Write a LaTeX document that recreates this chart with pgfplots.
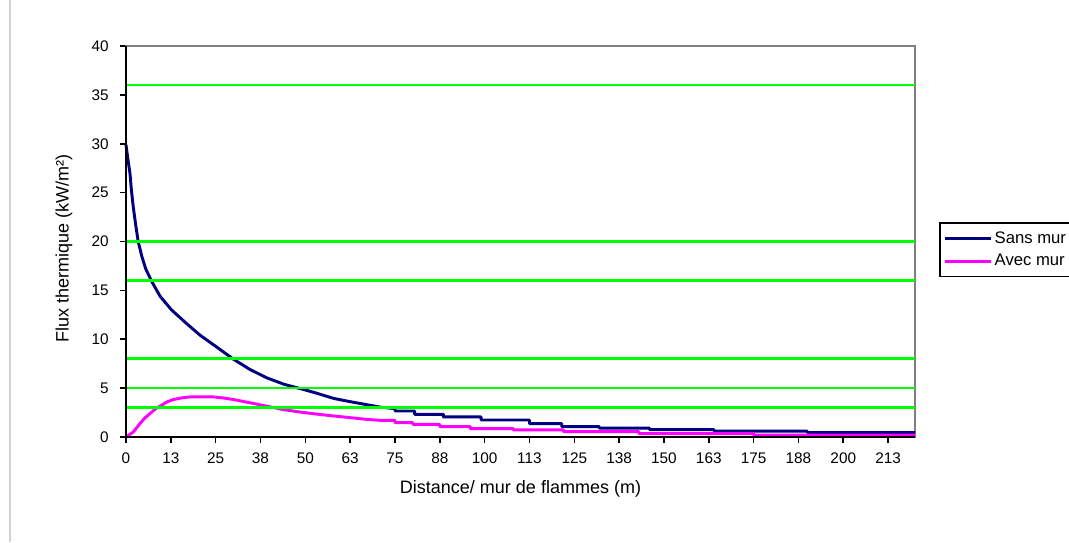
\documentclass[border=0pt]{standalone}
\usepackage{fontspec}
\setmainfont{Liberation Sans}
\usepackage{pgfplots}
\pgfplotsset{compat=1.18}
\definecolor{navyc}{RGB}{0,0,128}
\definecolor{pinkc}{RGB}{255,0,255}
\definecolor{greenc}{RGB}{0,255,0}
\definecolor{borderc}{RGB}{128,128,128}
\newcommand{\tfont}{\fontsize{11.5}{13}\selectfont}
\newcommand{\lfont}{\fontsize{13.5}{15}\selectfont}
\newcommand{\gfont}{\fontsize{12.5}{14}\selectfont}
\begin{document}
\begin{tikzpicture}
\draw[gray!35, line width=0.8pt] (-87pt,-78.75pt) -- (-87pt,327.75pt);
\begin{axis}[
  at={(0,0)}, anchor=south west,
  scale only axis, width=591.75pt, height=293.25pt,
  xmin=0, xmax=220, ymin=0, ymax=40,
  xtick={0,12.5,25,37.5,50,62.5,75,87.5,100,112.5,125,137.5,150,162.5,175,187.5,200,212.5},
  xticklabels={0,13,25,38,50,63,75,88,100,113,125,138,150,163,175,188,200,213},
  ytick={0,5,10,15,20,25,30,35,40},
  tick align=outside, xtick pos=left, ytick pos=left,
  major tick length=4.5pt,
  tick style={black, line width=1.2pt},
  axis line style={draw=borderc, line width=1.5pt},
  /pgf/number format/assume math mode=true,
  tick label style={font=\tfont},
  yticklabel style={xshift=-5pt},
  xticklabel style={yshift=-4pt},
  xlabel={Distance/ mur de flammes (m)},
  ylabel={Flux thermique (kW/m²)},
  every axis x label/.style={at={(rel axis cs:0.5,0)}, yshift=-39pt, anchor=center, font=\lfont},
  every axis y label/.style={at={(rel axis cs:0,0.5)}, xshift=-46.5pt, yshift=-5pt, rotate=90, anchor=center, font=\lfont},
  legend style={at={(1.0304,0.55)}, anchor=north west, draw=black, line width=1.2pt,
    font=\gfont, inner xsep=3pt, inner ysep=4.5pt, row sep=3pt, cells={anchor=west}},
  legend image code/.code={\draw[#1] (0pt,0pt) -- (34pt,0pt);},
  clip=false,
]
\addplot[navyc, line width=2.2pt, line join=round] coordinates {
(0,29.9) (0.5,28.5) (1.1,27.0) (1.5,25.3) (2.0,23.6) (2.7,21.7) (3.4,20.0) (4.4,18.5)
(5.5,17.2) (7.2,15.9) (9.5,14.4) (12.7,13.0) (16.9,11.6) (20.7,10.4) (25.3,9.2)
(30,7.95) (34.6,6.9) (39.3,6.05) (44,5.4) (48.6,4.95) (53,4.5) (57.9,3.95) (62,3.65)
(67.2,3.3) (71,3.05) (75,2.9) (75,2.66) (80.5,2.66) (80.5,2.32) (88.5,2.32) (88.5,2.05)
(99,2.05) (99,1.74) (112.5,1.74) (112.5,1.36) (121.5,1.36) (121.5,1.06) (132,1.06)
(132,0.9) (146,0.9) (146,0.75) (164,0.75) (164,0.6) (190,0.6) (190,0.45) (220,0.45)
};
\addlegendentry{Sans mur}
\addplot[pinkc, line width=2.2pt, line join=round] coordinates {
(0,0) (2,0.5) (3.9,1.37) (5,1.85) (6.7,2.4) (8.3,2.9) (9.9,3.25) (11.5,3.6) (13.2,3.83)
(15.5,4.0) (17.9,4.1) (24.4,4.1) (27,4.0) (30,3.83) (34.6,3.5) (39.3,3.15) (43.9,2.8)
(48.6,2.55) (53,2.35) (57.9,2.15) (62,2.0) (67.2,1.8) (71,1.7) (75,1.7) (75,1.47)
(80,1.47) (80,1.3) (87.5,1.3) (87.5,1.06) (96,1.06) (96,0.85) (108,0.85) (108,0.72)
(122,0.72) (122,0.55) (143,0.55) (143,0.35) (175,0.35) (175,0.2) (220,0.2)
};
\addlegendentry{Avec mur}
\addplot[greenc, line width=2pt, forget plot] coordinates {(0,36) (220,36)};
\addplot[greenc, line width=2pt, forget plot] coordinates {(0,20) (220,20)};
\addplot[greenc, line width=2pt, forget plot] coordinates {(0,16) (220,16)};
\addplot[greenc, line width=2pt, forget plot] coordinates {(0,8) (220,8)};
\addplot[greenc, line width=2pt, forget plot] coordinates {(0,5) (220,5)};
\addplot[greenc, line width=2pt, forget plot] coordinates {(0,3) (220,3)};
\draw[black, line width=1.8pt] (rel axis cs:0,1) -- (rel axis cs:0,0) -- (rel axis cs:1,0);
\end{axis}
\pgfresetboundingbox
\useasboundingbox (-94.5pt,-78.75pt) rectangle (707.25pt,327.75pt);
\end{tikzpicture}
\end{document}
